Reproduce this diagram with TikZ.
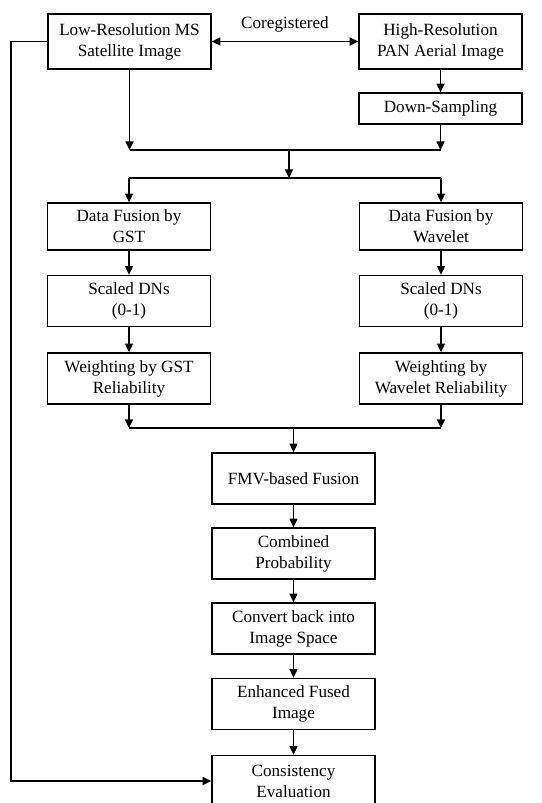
\documentclass[tikz,border=0pt]{standalone}
\usepackage{fontspec}
\setmainfont{Liberation Serif}
\usetikzlibrary{arrows.meta}

\begin{document}
\begin{tikzpicture}[x=0.7pt,y=-0.7pt,
    blk/.style={draw,line width=1.1pt,minimum width=114pt,minimum height=35.7pt,
      align=center,inner sep=2pt,font=\fontsize{12}{14.6}\selectfont},
    arr/.style={-{Triangle[length=6pt,width=5.5pt]},line width=1.1pt},
    ln/.style={line width=1.1pt}]
\useasboundingbox (0,0) rectangle (542,803);
			% inputs
			\node[blk,minimum height=38.5pt] (ms) at (129.5,41.5) {Low-Resolution MS\\Satellite Image};
			\node[blk,minimum height=38.5pt] (pan) at (440.5,41.5) {High-Resolution\\PAN Aerial Image};
			\node[blk,minimum height=21.7pt] (down) at (440.5,108.5) {Down-Sampling};
			\node[font=\fontsize{12}{14.6}\selectfont] (coreg) at (285,24) {Coregistered};
			% two branches
			\node[blk,minimum height=32.9pt] (gst) at (129,226.5) {Data Fusion by\\GST};
			\node[blk,minimum height=32.9pt] (wav) at (441,226.5) {Data Fusion by\\Wavelet};
			\node[blk] (sdl) at (129,301) {Scaled DNs\\(0-1)};
			\node[blk] (sdr) at (441,301) {Scaled DNs\\(0-1)};
			\node[blk] (wgl) at (129,378.5) {Weighting by GST\\Reliability};
			\node[blk] (wgr) at (441,378.5) {Weighting by\\Wavelet Reliability};
			% fusion chain
			\node[blk] (fmv) at (293.5,478.5) {FMV-based Fusion};
			\node[blk] (comb) at (293.5,553.5) {Combined\\Probability};
			\node[blk] (conv) at (293.5,628.5) {Convert back into\\Image Space};
			\node[blk] (enh) at (293.5,704) {Enhanced Fused\\Image};
			\node[blk] (cons) at (293.5,781) {Consistency\\Evaluation};
			% junctions
			\coordinate (j1) at (289,150);
			\coordinate (j2) at (289,178);
			\coordinate (j3) at (293.5,428);
			% connectors
			\draw[{Triangle[length=6pt,width=5.5pt]}-{Triangle[length=6pt,width=5.5pt]},line width=1.1pt] (ms.east) -- (pan.west);
			\draw[arr] (pan) -- (down);
			\draw[arr] (ms) -- (ms |- j1);
			\draw[arr] (down) -- (down |- j1);
			\draw[ln] (ms |- j1) -- (down |- j1);
			\draw[arr] (j1) -- (j2);
			\draw[ln] (gst |- j2) -- (wav |- j2);
			\draw[arr] (gst |- j2) -- (gst);
			\draw[arr] (wav |- j2) -- (wav);
			\draw[arr] (gst) -- (sdl);
			\draw[arr] (wav) -- (sdr);
			\draw[arr] (sdl) -- (wgl);
			\draw[arr] (sdr) -- (wgr);
			\draw[arr] (wgl) -- (wgl |- j3);
			\draw[arr] (wgr) -- (wgr |- j3);
			\draw[ln] (wgl |- j3) -- (wgr |- j3);
			\draw[arr] (j3) -- (fmv);
			\draw[arr] (fmv) -- (comb);
			\draw[arr] (comb) -- (conv);
			\draw[arr] (conv) -- (enh);
			\draw[arr] (enh) -- (cons);
			\draw[arr] (ms.west) -- ++(-36,0) |- (cons.west);
\end{tikzpicture}
\end{document}
